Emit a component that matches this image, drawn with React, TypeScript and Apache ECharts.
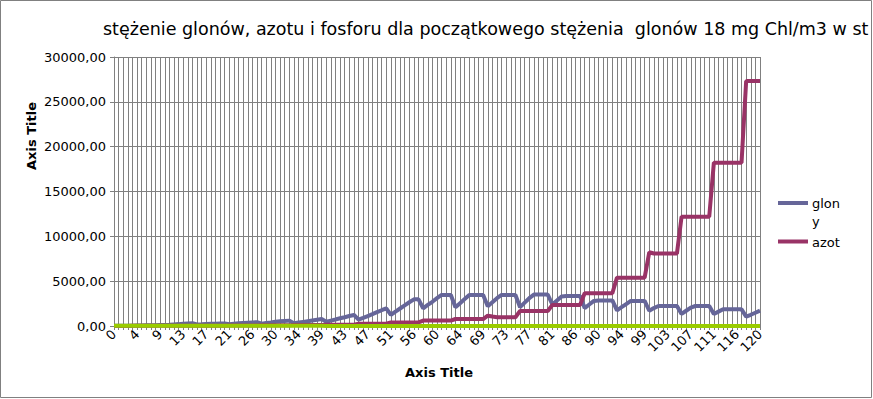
import React, { useEffect, useRef } from "react";
import * as echarts from "echarts";

const TITLE = "stężenie glonów, azotu i fosforu dla początkowego stężenia  glonów 18 mg Chl/m3 w st";
const X_TITLE = "Axis Title";
const Y_TITLE = "Axis Title";

// x categories (time), shown rounded
const categories = [
  0, 1, 2, 3, 3, 4, 5,
  6, 7, 8, 9, 9, 10, 11,
  12, 13, 14, 15, 15, 16, 17,
  18, 19, 20, 21, 21, 22, 23,
  24, 25, 26, 27, 27, 28, 29,
  30, 31, 32, 33, 33, 34, 35,
  36, 37, 38, 39, 39, 40, 41,
  42, 43, 44, 45, 45, 46, 47,
  48, 49, 50, 51, 51, 52, 53,
  54, 55, 56, 57, 57, 58, 59,
  60, 61, 62, 63, 63, 64, 65,
  66, 67, 68, 69, 69, 70, 71,
  72, 73, 74, 75, 75, 76, 77,
  78, 79, 80, 81, 81, 82, 83,
  84, 85, 86, 87, 87, 88, 89,
  90, 91, 92, 93, 93, 94, 95,
  96, 97, 98, 99, 99, 100, 101,
  102, 103, 104, 105, 105, 106, 107,
  108, 109, 110, 111, 111, 112, 113,
  114, 115, 116, 117, 117, 118, 119,
  120,
].map(String);

const glony = [
  18, 22, 27, 33,
  40, 50, 60, 70, 80, 90, 100,
  100, 130, 170, 210, 260, 290, 300,
  180, 200, 220, 240, 260, 270, 280,
  200, 250, 300, 340, 370, 400, 420,
  250, 330, 400, 480, 520, 560, 600,
  300, 380, 460, 540, 620, 700, 780,
  480, 600, 720, 860, 980, 1110, 1230,
  700, 900, 1110, 1320, 1540, 1760, 1970,
  1230, 1600, 1950, 2300, 2650, 2970, 2970,
  1970, 2350, 2700, 3100, 3460, 3460, 3460,
  2100, 2550, 3000, 3460, 3460, 3460, 3460,
  2200, 2650, 3100, 3460, 3460, 3460, 3460,
  2100, 2600, 3100, 3500, 3500, 3500, 3500,
  2400, 2850, 3300, 3350, 3350, 3350, 3350,
  2000, 2400, 2800, 2850, 2850, 2850, 2850,
  1750, 2100, 2450, 2800, 2800, 2800, 2800,
  1700, 2000, 2230, 2230, 2230, 2230, 2230,
  1340, 1700, 2050, 2230, 2230, 2230, 2230,
  1340, 1600, 1860, 1860, 1860, 1860, 1860,
  1040, 1250, 1480, 1710,
];

const azot = [
  10, 10, 10, 10,
  14, 14, 14, 14, 14, 14, 14,
  20, 20, 20, 20, 20, 20, 20,
  30, 30, 30, 30, 30, 30, 30,
  45, 45, 45, 45, 45, 45, 45,
  70, 70, 70, 70, 70, 70, 70,
  100, 100, 100, 100, 100, 100, 100,
  150, 150, 150, 150, 150, 150, 150,
  250, 250, 250, 250, 250, 250, 250,
  400, 400, 400, 400, 400, 400, 400,
  600, 600, 600, 600, 600, 600, 600,
  780, 780, 780, 780, 780, 780, 780,
  1150, 1050, 980, 980, 980, 980, 980,
  1680, 1680, 1680, 1680, 1680, 1680, 1680,
  2340, 2340, 2340, 2340, 2340, 2340, 2340,
  3650, 3650, 3650, 3650, 3650, 3650, 3650,
  5390, 5390, 5390, 5390, 5390, 5390, 5390,
  8220, 8080, 8080, 8080, 8080, 8080, 8080,
  12190, 12190, 12190, 12190, 12190, 12190, 12190,
  18210, 18210, 18210, 18210, 18210, 18210, 18210,
  27320, 27320, 27320, 27320,
];

const fosfor = [
  20, 20, 20, 20,
  19, 19, 19, 19, 19, 19, 19,
  18, 18, 18, 18, 18, 18, 18,
  17, 17, 17, 17, 17, 17, 17,
  16, 16, 16, 16, 16, 16, 16,
  15, 15, 15, 15, 15, 15, 15,
  14, 14, 14, 14, 14, 14, 14,
  13, 13, 13, 13, 13, 13, 13,
  12, 12, 12, 12, 12, 12, 12,
  11, 11, 11, 11, 11, 11, 11,
  10, 10, 10, 10, 10, 10, 10,
  9, 9, 9, 9, 9, 9, 9,
  8, 8, 8, 8, 8, 8, 8,
  7, 7, 7, 7, 7, 7, 7,
  6, 6, 6, 6, 6, 6, 6,
  5, 5, 5, 5, 5, 5, 5,
  4, 4, 4, 4, 4, 4, 4,
  3, 3, 3, 3, 3, 3, 3,
  3, 3, 3, 3, 3, 3, 3,
  2, 2, 2, 2, 2, 2, 2,
  2, 2, 2, 2,
];

const legendItems = [
  { name: "glony", label: "glon\ny", color: "#666699" },
  { name: "azot", label: "azot", color: "#993366" },
];

const FONT = "DejaVu Sans";
const GRID = "#808080";

export default function App() {
  const ref = useRef<HTMLDivElement>(null);
  useEffect(() => {
    if (!ref.current) return;
    const chart = echarts.init(ref.current, null, { renderer: "svg" });
    const legendGraphics: any[] = [];
    legendItems.forEach((it, i) => {
      const cy = 203 + i * 38.5;
      legendGraphics.push({
        type: "rect",
        shape: { x: 778, y: cy - 2, width: 30, height: 4 },
        style: { fill: it.color },
        silent: true,
      });
      legendGraphics.push({
        type: "text",
        x: 812,
        y: cy - 8.5,
        style: {
          text: it.label,
          font: `13px "${FONT}"`,
          lineHeight: 18,
          fill: "#000",
          align: "left",
          verticalAlign: "top",
        },
      });
    });
    chart.setOption({
      animation: false,
      backgroundColor: "#ffffff",
      textStyle: { fontFamily: FONT },
      title: {
        text: TITLE,
        left: 103,
        top: 20,
        padding: 0,
        textStyle: { fontFamily: FONT, fontSize: 17.5, fontWeight: "normal", color: "#000" },
      },
      grid: { left: 114, right: 113, top: 57, bottom: 73, containLabel: false },
      xAxis: {
        type: "category",
        data: categories,
        boundaryGap: false,
        axisLine: { lineStyle: { color: GRID, width: 1 } },
        axisTick: { show: true, interval: 0, length: 4, lineStyle: { color: GRID } },
        splitLine: { show: true, interval: 0, lineStyle: { color: GRID, width: 1 } },
        axisLabel: {
          interval: 4,
          rotate: 45,
          margin: 6,
          fontFamily: FONT,
          fontSize: 13,
          color: "#000",
        },
      },
      yAxis: {
        type: "value",
        min: 0,
        max: 30000,
        interval: 5000,
        axisLine: { show: true, lineStyle: { color: GRID } },
        axisTick: { show: true, length: 4, lineStyle: { color: GRID } },
        splitLine: { show: true, lineStyle: { color: GRID, width: 1 } },
        axisLabel: {
          margin: 8,
          fontFamily: FONT,
          fontSize: 13,
          color: "#000",
          formatter: (v: number) => v.toFixed(2).replace(".", ","),
        },
      },
      series: [
        {
          name: "glony",
          type: "line",
          data: glony,
          showSymbol: false,
          symbol: "none",
          color: "#666699",
          lineStyle: { width: 4, color: "#666699" },
        },
        {
          name: "azot",
          type: "line",
          data: azot,
          showSymbol: false,
          symbol: "none",
          color: "#993366",
          lineStyle: { width: 4, color: "#993366" },
        },
        {
          name: "fosfor",
          type: "line",
          data: fosfor,
          showSymbol: false,
          symbol: "none",
          color: "#99cc00",
          lineStyle: { width: 4, color: "#99cc00" },
        },
      ],
      graphic: [
        {
          type: "rect",
          shape: { x: 0.5, y: 0.5, width: 871, height: 397 },
          style: { fill: "none", stroke: "#808080", lineWidth: 1 },
          silent: true,
        },
        {
          type: "text",
          x: 31,
          y: 136,
          rotation: Math.PI / 2,
          style: {
            text: Y_TITLE,
            font: `bold 13px "${FONT}"`,
            fill: "#000",
            align: "center",
            verticalAlign: "middle",
          },
        },
        {
          type: "text",
          x: 439,
          y: 372,
          style: {
            text: X_TITLE,
            font: `bold 13px "${FONT}"`,
            fill: "#000",
            align: "center",
            verticalAlign: "middle",
          },
        },
        ...legendGraphics,
      ],
    });
    return () => chart.dispose();
  }, []);
  return (
    <div
      ref={ref}
      style={{ position: "absolute", left: 0, top: 0, width: 873, height: 399 }}
    />
  );
}
